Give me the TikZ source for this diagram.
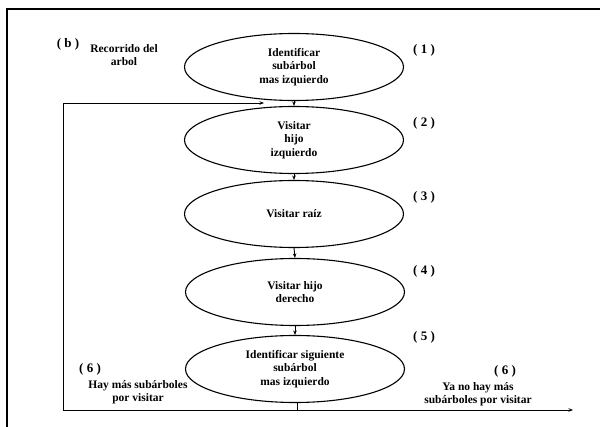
\documentclass[tikz,border=0pt]{standalone}
\usepackage{fontspec}
\setmainfont{Liberation Serif}
\usetikzlibrary{shapes.geometric,arrows.meta}
\begin{document}
\begin{tikzpicture}[x=1pt,y=-1pt,
  stepbox/.style={ellipse,draw,line width=1.1pt,minimum width=219pt,minimum height=67pt,
    inner sep=0pt,align=center,font=\fontsize{11.5}{13.5}\selectfont\bfseries},
  lbl/.style={font=\fontsize{11.5}{13.5}\selectfont\bfseries,align=center,inner sep=0pt},
  num/.style={font=\fontsize{13}{14}\selectfont\bfseries,inner sep=0pt},
  flow/.style={line width=0.9pt,-{Stealth[length=4.5pt,width=3.5pt]}},
  frame/.style={line width=1.3pt}]
\useasboundingbox (0,0) rectangle (600,427);
% outer frame
\draw[frame] (7,427) -- (7,9) -- (600,9);
% steps
\node[stepbox] (e1) at (294,67) {Identificar\\subárbol\\mas izquierdo};
\node[stepbox] (e2) at (294,140) {Visitar\\hijo\\izquierdo};
\node[stepbox] (e3) at (294,214) {Visitar raíz};
\node[stepbox] (e4) at (295,292) {Visitar hijo\\derecho};
\node[stepbox] (e5) at (295,369) {Identificar siguiente\\subárbol\\mas izquierdo};
\draw[flow] (e1.south) -- (e2.north);
\draw[flow] (e2.south) -- (e3.north);
\draw[flow] (e3.south) -- (e4.north);
\draw[flow] (e4.south) -- (e5.north);
% loop back and exit
\coordinate (j) at (297,410);
\coordinate (bl) at (63,410);
\coordinate (tl) at (63,103);
\coordinate (back) at (264,103);
\coordinate (out) at (573,410);
\draw[line width=0.9pt] (e5.south -| j) -- (j);
\draw[flow] (j) -- (bl) -- (tl) -- (back);
\draw[flow] (j) -- (out);
% labels
\node[num] (b) at (68,44) {( b )};
\node[lbl] (title) at (124,55) {Recorrido del\\arbol};
\node[num] (n1) at (424,50) {( 1 )};
\node[num] (n2) at (424,123) {( 2 )};
\node[num] (n3) at (424,197) {( 3 )};
\node[num] (n4) at (424,271) {( 4 )};
\node[num] (n5) at (424,337) {( 5 )};
\node[num] (n6a) at (90,369) {( 6 )};
\node[lbl] (la) at (138,392) {Hay más subárboles\\por visitar};
\node[num] (n6b) at (505,371) {( 6 )};
\node[lbl] (lb) at (478,394) {Ya no hay más\\subárboles por visitar};
\end{tikzpicture}
\end{document}
